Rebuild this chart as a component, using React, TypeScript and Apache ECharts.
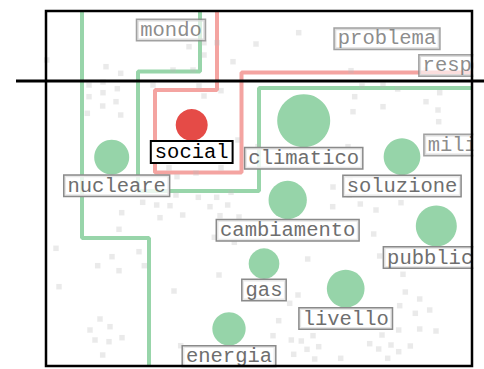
import React, { useEffect, useRef } from "react";
import * as echarts from "echarts";

// Coordinate space: x 46..472, y 11..366 (y grows downward)
const wordNames = ["social", "nucleare", "climatico", "soluzione", "cambiamento", "pubblico", "gas", "livello", "energia"];
const wordX = [191.7, 111.7, 303.7, 402, 287.7, 436.3, 264, 345.7, 229];
const wordY = [125, 157.2, 120.7, 156.7, 200, 226, 263.7, 288.7, 328.8];
const wordSize = [32, 35, 53, 36.7, 38.3, 41, 30.7, 37.7, 33.3];
const wordGroup = ["red", "green", "green", "green", "green", "green", "green", "green", "green"];

// words whose circles lie outside the view (label only)
const outNames = ["mondo", "problema", "responsabilità", "milioni"];
const outX = [171, 387, 508.7, 470.7];
const outY = [30, 38.8, 65.5, 145];

// region boundaries
const greenAX = [82, 82, 149, 149];
const greenAY = [11, 238, 238, 366];
const greenBX = [200, 200, 138, 138, 259, 259, 472];
const greenBY = [11, 71.5, 71.5, 191, 191, 88, 88];
const redX = [217, 217, 155, 155, 241.5, 241.5, 472];
const redY = [11, 90, 90, 172.5, 172.5, 72.5, 72.5];

// background dots
const dotX = [46.7, 106, 120.7, 89, 103, 117.3, 89, 116, 102.7, 87.3, 120.7, 189, 204, 217, 204, 233, 173, 193, 153, 199, 204, 221, 238, 169, 196, 221, 177,
  256, 298.7, 351, 426, 362, 383, 397.7, 439.7, 354.7, 383, 353, 426, 438, 438.7, 348, 258,
  142.7, 156.7, 170, 182.7, 160, 121.7, 119, 210, 227.7, 176, 198.3, 216.7, 231, 220, 56, 112, 139, 97.7, 119, 144.3, 59, 174, 219, 214.3, 234.3, 100, 90, 110, 95, 109, 122, 102.7, 180.7,
  332.7, 360.3, 376, 401, 373.7, 307.7, 379.7, 403, 405.3, 419.7, 399.7, 415.3, 429.7, 298, 289.7, 278.7, 273, 291.3, 301.3, 313, 318.7, 307, 293.7, 314.7, 340.7, 369.7, 378.7, 391, 410.3, 382, 419.7, 436, 398.7, 387.7, 398.7, 349.3,
  333, 350, 239, 103];
const dotY = [60, 66.7, 73.3, 85, 92.7, 88.7, 96.7, 101.7, 106, 113.3, 115, 46.7, 42.7, 42.7, 55, 61.7, 70, 70, 85, 86, 96, 90.7, 140, 167.7, 173, 167.7, 176.7,
  44, 32.7, 70.7, 70, 86, 85, 89, 92.7, 96.7, 106.7, 111.7, 101.7, 110, 121.7, 146.7, 146.7,
  202.3, 205, 205.7, 215, 217.7, 212.7, 229.3, 206.7, 205, 195, 197.3, 197.3, 192.3, 215.7, 248.3, 256.7, 251.7, 265.7, 270.7, 265.7, 286.7, 291, 275, 237.3, 242.3, 319, 330, 326.7, 340, 341.7, 337.7, 355, 345.7,
  206.7, 204, 210, 202.7, 234, 259, 256, 274.3, 292, 299, 305.7, 313.3, 310, 295, 303.3, 320.7, 335.7, 340, 341, 335.7, 346.7, 349.3, 354.3, 359, 358.3, 343.7, 349, 345, 346, 335, 329, 331, 330, 358.3, 351.7, 195,
  187, 178, 217, 82];

const GREEN = "#96d4a9";
const GREEN_LINE = "#98d5aa";
const RED_LINE = "#f4a4a1";
const RED = "#e54b47";

const labelBase = {
  show: true,
  fontFamily: "Liberation Mono, DejaVu Sans Mono, monospace",
  fontSize: 20.5,
  lineHeight: 17,
  color: "#6e6e6e",
  backgroundColor: "rgba(255,255,255,0.8)",
  borderColor: "#8a8a8a",
  borderWidth: 1.5,
  padding: [2, 3, 1, 3],
};

export default function App() {
  const ref = useRef<HTMLDivElement>(null);
  useEffect(() => {
    if (!ref.current) return;
    const chart = echarts.init(ref.current, null, { renderer: "svg" });
    const zip = (xs: number[], ys: number[]) => xs.map((x, i) => [x, ys[i]]);
    const lineSeries = (xs: number[], ys: number[], color: string) => ({
      type: "line",
      data: zip(xs, ys),
      symbol: "none",
      lineStyle: { color, width: 4 },
      z: 2,
      silent: true,
    });
    chart.setOption({
      animation: false,
      grid: { left: 46, top: 11, width: 426, height: 355 },
      xAxis: { type: "value", min: 46, max: 472, show: false },
      yAxis: { type: "value", min: 11, max: 366, inverse: true, show: false },
      series: [
        lineSeries(greenAX, greenAY, GREEN_LINE),
        lineSeries(greenBX, greenBY, GREEN_LINE),
        lineSeries(redX, redY, RED_LINE),
        {
          type: "scatter",
          data: zip(dotX, dotY),
          symbol: "rect",
          symbolSize: 5.5,
          itemStyle: { color: "rgba(185,185,185,0.3)", opacity: 1 },
          z: 3,
          clip: false,
        },
        {
          type: "scatter",
          z: 4,
          clip: false,
          data: wordNames.map((n, i) => ({
            name: n,
            value: [wordX[i], wordY[i]],
            symbolSize: wordSize[i],
            itemStyle: { color: wordGroup[i] === "red" ? RED : GREEN, opacity: 1 },
            label:
              wordGroup[i] === "red"
                ? { ...labelBase, color: "#000", borderColor: "#000", borderWidth: 2, backgroundColor: "#fff" }
                : n === "nucleare"
                ? { ...labelBase, offset: [5, 0] }
                : labelBase,
          })),
          label: { ...labelBase, position: "bottom", distance: 1, formatter: "{b}" },
        },
        {
          type: "scatter",
          z: 5,
          clip: false,
          symbolSize: 0,
          data: outNames.map((n, i) => ({ name: n, value: [outX[i], outY[i]] })),
          label: { ...labelBase, position: "inside", formatter: "{b}" },
        },
      ],
      graphic: [
        { type: "rect", shape: { x: 473.3, y: 0, width: 12, height: 369 }, style: { fill: "#fff" }, z: 99 },
        { type: "rect", shape: { x: 0, y: 367.3, width: 484, height: 3 }, style: { fill: "#fff" }, z: 99 },
        { type: "rect", shape: { x: 46, y: 11, width: 426, height: 355 }, style: { fill: "none", stroke: "#000", lineWidth: 2.5 }, z: 100 },
        { type: "line", shape: { x1: 16, y1: 81, x2: 484, y2: 81 }, style: { stroke: "#000", lineWidth: 3 }, z: 101 },
      ],
    });
    return () => chart.dispose();
  }, []);
  return <div ref={ref} style={{ position: "fixed", left: 0, top: 0, width: 484, height: 369, background: "#fff" }} />;
}
